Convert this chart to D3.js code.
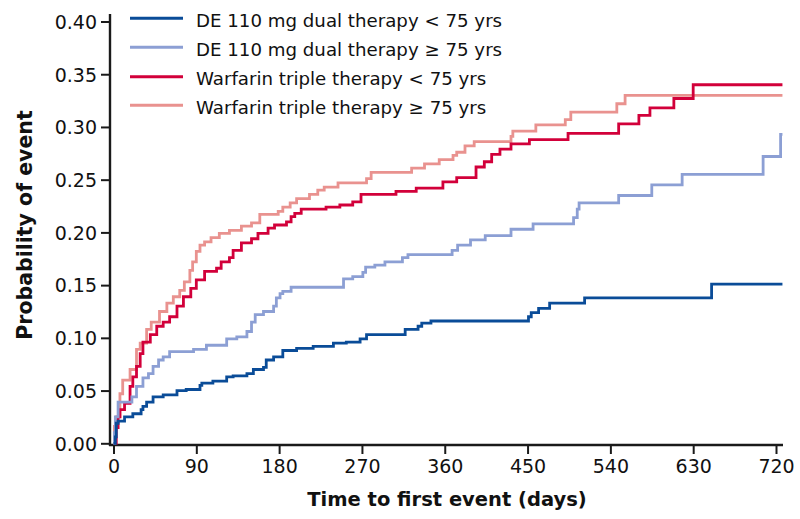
<!DOCTYPE html>
<html>
<head>
<meta charset="utf-8">
<script src="https://cdn.jsdelivr.net/npm/d3@7"></script>
<style>
  body { margin: 0; background: #fff; }
  svg { display: block; }
  text { font-family: "DejaVu Sans", sans-serif; fill: #111; }
</style>
</head>
<body>
<svg id="chart" width="800" height="519"></svg>
<script>
// ---- data (days, cumulative probability of event) ----
const seriesNames = [
  "DE 110 mg dual therapy < 75 yrs",
  "DE 110 mg dual therapy \u2265 75 yrs",
  "Warfarin triple therapy < 75 yrs",
  "Warfarin triple therapy \u2265 75 yrs"
];
const seriesColors = ["#0a4c98", "#8c9fd4", "#d2003a", "#e9928f"];

const xTicks = [0, 90, 180, 270, 360, 450, 540, 630, 720];
const yTicks = [0, 0.05, 0.10, 0.15, 0.20, 0.25, 0.30, 0.35, 0.40];

const de110Under75 = [
  [0,0],[2,0.006],[3,0.019],[5,0.021],[12,0.025],[21,0.028],[30,0.032],[32,0.035],[36,0.039],
  [43,0.044],[54,0.046],[69,0.050],[79,0.051],[94,0.055],[96,0.057],[108,0.059],[123,0.063],
  [130,0.064],[145,0.066],[152,0.070],[163,0.072],[166,0.079],[174,0.082],[184,0.088],[199,0.090],
  [217,0.092],[239,0.095],[253,0.096],[268,0.099],[275,0.103],[317,0.108],[331,0.111],[335,0.114],
  [345,0.116],[451,0.120],[454,0.124],[462,0.128],[474,0.133],[512,0.138],[650,0.151],[727,0.151]
];
const de110Over75 = [
  [0,0],[1,0.010],[2,0.025],[5,0.039],[20,0.044],[25,0.054],[32,0.062],[38,0.066],[43,0.073],
  [49,0.079],[54,0.082],[61,0.087],[87,0.089],[101,0.093],[123,0.099],[134,0.101],[145,0.106],
  [150,0.115],[154,0.122],[163,0.125],[174,0.130],[177,0.138],[181,0.142],[184,0.144],[193,0.148],
  [250,0.156],[260,0.158],[271,0.162],[274,0.167],[284,0.169],[295,0.172],[314,0.176],[320,0.179],
  [368,0.183],[374,0.188],[388,0.193],[404,0.197],[432,0.203],[456,0.208],[500,0.214],[504,0.222],
  [506,0.228],[549,0.235],[585,0.245],[618,0.255],[706,0.272],[725,0.293],[727,0.293]
];
const warfUnder75 = [
  [0,0],[3,0.015],[5,0.025],[7,0.032],[12,0.038],[18,0.054],[21,0.063],[25,0.073],[29,0.085],
  [32,0.096],[40,0.103],[47,0.111],[54,0.115],[61,0.120],[69,0.130],[76,0.139],[84,0.147],
  [90,0.155],[99,0.163],[112,0.166],[117,0.172],[126,0.176],[130,0.183],[139,0.190],[150,0.194],
  [157,0.199],[168,0.204],[175,0.207],[188,0.210],[193,0.215],[197,0.218],[204,0.222],[231,0.224],
  [246,0.226],[260,0.229],[269,0.236],[307,0.239],[329,0.242],[358,0.248],[373,0.252],[394,0.262],
  [403,0.267],[411,0.274],[420,0.279],[432,0.284],[452,0.288],[494,0.294],[549,0.303],[571,0.311],
  [583,0.318],[609,0.327],[630,0.340],[727,0.340]
];
const warfOver75 = [
  [0,0],[1,0.016],[3,0.025],[7,0.047],[10,0.060],[18,0.070],[25,0.089],[29,0.095],[36,0.108],
  [41,0.115],[50,0.125],[58,0.133],[65,0.139],[72,0.145],[77,0.153],[83,0.164],[86,0.172],
  [90,0.182],[94,0.188],[99,0.191],[106,0.195],[115,0.199],[126,0.202],[139,0.206],[150,0.209],
  [159,0.217],[179,0.220],[184,0.224],[192,0.228],[199,0.232],[213,0.236],[222,0.240],[229,0.243],
  [244,0.247],[275,0.251],[280,0.257],[324,0.261],[338,0.265],[354,0.269],[369,0.273],[373,0.276],
  [382,0.282],[392,0.286],[432,0.291],[434,0.296],[459,0.302],[491,0.307],[497,0.314],[547,0.322],
  [556,0.330],[727,0.330]
];
const seriesData = [de110Under75, de110Over75, warfUnder75, warfOver75];

// ---- layout ----
const svg = d3.select("#chart");
const x = d3.scaleLinear().domain([0, 720]).range([113.5, 776]);
const y = d3.scaleLinear().domain([0, 0.40]).range([443.3, 21.5]);
const axisX = 110, axisY = 445;

// axes spines
svg.append("line").attr("x1", axisX).attr("x2", axisX).attr("y1", 14).attr("y2", axisY + 1)
  .attr("stroke", "#1a1a1a").attr("stroke-width", 2.4);
svg.append("line").attr("x1", axisX - 1).attr("x2", 783).attr("y1", axisY).attr("y2", axisY)
  .attr("stroke", "#1a1a1a").attr("stroke-width", 2.4);

// y axis
const gy = svg.append("g").attr("transform", `translate(${axisX},0)`)
  .call(d3.axisLeft(y).tickValues(yTicks).tickFormat(d3.format(".2f")).tickSize(9).tickPadding(4));
gy.select(".domain").remove();
gy.selectAll(".tick line").attr("stroke", "#1a1a1a").attr("stroke-width", 2);
gy.selectAll(".tick text").style("font-family", "DejaVu Sans, sans-serif")
  .style("font-size", "19px").attr("fill", "#111").attr("dy", "0.36em");

// x axis
const gx = svg.append("g").attr("transform", `translate(0,${axisY})`)
  .call(d3.axisBottom(x).tickValues(xTicks).tickFormat(d3.format("d")).tickSize(9).tickPadding(6));
gx.select(".domain").remove();
gx.selectAll(".tick line").attr("stroke", "#1a1a1a").attr("stroke-width", 2);
gx.selectAll(".tick text").style("font-family", "DejaVu Sans, sans-serif")
  .style("font-size", "19px").attr("fill", "#111");

// axis titles
svg.append("text").attr("x", 447).attr("y", 506).attr("text-anchor", "middle")
  .style("font-size", "19.5px").style("font-weight", "bold").text("Time to first event (days)");
svg.append("text").attr("transform", "translate(32,225) rotate(-90)").attr("text-anchor", "middle")
  .style("font-size", "20.5px").style("font-weight", "bold").text("Probability of event");

// curves
const line = d3.line().x(d => x(d[0])).y(d => y(d[1])).curve(d3.curveStepAfter);
const drawOrder = [3, 2, 1, 0];
drawOrder.forEach(i => {
  svg.append("path").datum(seriesData[i]).attr("d", line)
    .attr("fill", "none").attr("stroke", seriesColors[i]).attr("stroke-width", 2.8)
    .attr("stroke-linejoin", "miter");
});

// legend
const legY = [18.3, 47.3, 76.7, 105.3];
seriesNames.forEach((name, i) => {
  svg.append("line").attr("x1", 130).attr("x2", 183).attr("y1", legY[i]).attr("y2", legY[i])
    .attr("stroke", seriesColors[i]).attr("stroke-width", 3);
  svg.append("text").attr("x", 196).attr("y", legY[i] + 8.4)
    .style("font-size", "18.2px").text(name);
});
</script>
</body>
</html>
